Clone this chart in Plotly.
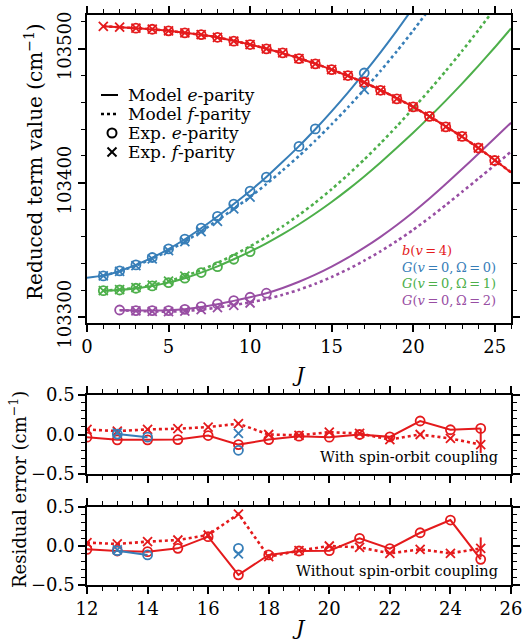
import plotly.graph_objects as go

# ---------------- data ----------------
# Top panel: reduced term values (cm^-1)
J_red_model = list(range(1, 27))
red_e_model = [103516.6, 103515.9, 103515.2, 103514.4, 103513.2, 103511.7, 103510.2, 103508.3, 103505.8,
               103503.0, 103499.9, 103496.6, 103492.8, 103488.7, 103484.3, 103479.6, 103474.7, 103469.1,
               103463.0, 103456.5, 103449.5, 103442.0, 103434.2, 103425.9, 103417.0, 103407.7]
red_f_model = [103516.6, 103515.9, 103515.2, 103514.4, 103513.2, 103511.7, 103510.2, 103508.3, 103505.8,
               103503.0, 103499.9, 103496.6, 103492.8, 103488.7, 103484.3, 103479.6, 103474.7, 103469.1,
               103463.0, 103456.5, 103449.5, 103442.0, 103434.2, 103425.9, 103417.0, 103407.7]
J_red_e = list(range(3, 26))
red_e_exp = [103515.2, 103514.4, 103513.2, 103511.7, 103510.4, 103508.4, 103505.5, 103503.0, 103499.8,
             103496.8, 103492.5, 103488.6, 103484.3, 103479.9, 103474.9, 103468.9, 103462.5, 103456.5,
             103449.5, 103441.6, 103434.6, 103425.9, 103416.6]
J_red_f = list(range(1, 26))
red_f_exp = [103516.6, 103515.9, 103515.2, 103514.4, 103513.2, 103511.7, 103510.4, 103508.4, 103505.5,
             103503.0, 103499.8, 103496.8, 103492.5, 103488.6, 103484.3, 103479.9, 103474.9, 103468.9,
             103462.5, 103456.5, 103449.5, 103441.6, 103434.6, 103425.9, 103416.6]

J_blue_e_model = list(range(0, 21))
blue_e_model = [103329.3, 103330.8, 103334.3, 103338.8, 103344.2, 103350.6, 103357.9, 103366.1, 103374.9,
                103384.2, 103393.9, 103404.3, 103415.6, 103427.3, 103439.9, 103453.2, 103467.2, 103481.8,
                103497.2, 103513.4, 103530.4]
J_blue_f_model = list(range(1, 22))
blue_f_model = [103330.7, 103334.1, 103338.3, 103343.4, 103349.4, 103356.2, 103363.8, 103372.0, 103380.6,
                103389.4, 103399.0, 103409.3, 103419.9, 103431.4, 103443.5, 103456.2, 103469.4, 103483.3,
                103498.0, 103513.4, 103529.5]
J_blue_e = [1, 2, 3, 4, 5, 6, 7, 8, 9, 10, 11, 13, 14, 17]
blue_e_exp = [103330.6, 103334.3, 103338.8, 103344.3, 103350.7, 103358.0, 103366.2, 103374.9, 103384.1,
              103393.8, 103404.2, 103427.1, 103440.1, 103481.8]
J_blue_f = [1, 2, 3, 4, 5, 6, 7, 8, 9, 10, 17]
blue_f_exp = [103330.6, 103334.0, 103338.3, 103343.3, 103349.4, 103356.1, 103363.6, 103371.2, 103380.5,
              103389.3, 103469.4]

J_green_e_model = list(range(1, 27))
green_e_model = [103319.6, 103320.1, 103321.4, 103323.1, 103325.6, 103328.9, 103333.0, 103337.7, 103343.0,
                 103348.7, 103354.9, 103361.7, 103369.1, 103377.1, 103385.7, 103394.9, 103404.7, 103415.1,
                 103426.0, 103437.3, 103449.0, 103461.2, 103473.9, 103487.1, 103500.8, 103515.0]
J_green_f_model = list(range(1, 26))
green_f_model = [103319.7, 103320.3, 103321.8, 103323.8, 103326.7, 103330.4, 103335.0, 103340.3, 103346.2,
                 103352.6, 103359.7, 103367.5, 103376.0, 103385.2, 103395.2, 103405.9, 103417.3, 103429.4,
                 103442.1, 103455.3, 103469.0, 103483.3, 103498.2, 103513.7, 103529.8]
J_green_e = list(range(1, 11))
green_e_exp = [103319.6, 103320.1, 103321.4, 103323.1, 103325.6, 103328.9, 103333.1, 103337.5, 103343.0,
               103348.7]
J_green_f = list(range(1, 7))
green_f_exp = [103319.7, 103320.3, 103321.8, 103323.8, 103326.7, 103330.4]

J_purple_model = list(range(2, 27))
purple_e_model = [103305.2, 103304.9, 103304.8, 103305.0, 103305.8, 103307.4, 103309.5, 103312.0, 103314.7,
                  103317.7, 103321.6, 103326.2, 103331.5, 103337.5, 103344.2, 103351.6, 103359.7, 103368.5,
                  103378.0, 103388.2, 103399.0, 103410.2, 103421.6, 103433.1, 103444.7]
purple_f_model = [103305.0, 103304.5, 103304.1, 103304.0, 103304.4, 103305.5, 103307.0, 103308.9, 103310.9,
                  103313.3, 103316.5, 103320.3, 103324.7, 103329.8, 103335.5, 103341.9, 103348.9, 103356.6,
                  103364.9, 103373.9, 103383.4, 103393.2, 103403.1, 103413.1, 103423.1]
J_purple_e = list(range(2, 12))
purple_e_exp = [103305.2, 103304.7, 103304.7, 103304.7, 103305.7, 103307.7, 103309.7, 103312.2, 103314.7,
                103317.7]
J_purple_f = list(range(3, 11))
purple_f_exp = [103304.5, 103304.1, 103304.0, 103304.4, 103305.5, 103307.0, 103308.6, 103310.4]

# Residual panels (cm^-1)
J_res = list(range(12, 26))
so_red_e = [-0.034, -0.068, -0.068, -0.064, -0.013, -0.128, -0.064, -0.021, -0.034, 0.0, -0.03, 0.171, 0.06, 0.077]
so_red_f = [0.064, 0.043, 0.064, 0.073, 0.094, 0.137, 0.0, -0.01, 0.03, 0.013, -0.064, 0.0, -0.05, -0.128]
so_red_f_errp = [0, 0, 0, 0, 0, 0, 0, 0, 0, 0, 0, 0, 0, 0.205]
so_red_f_errm = [0, 0, 0, 0, 0, 0, 0, 0, 0, 0, 0, 0, 0, 0.107]
nso_red_e = [-0.043, -0.064, -0.073, -0.03, 0.12, -0.37, -0.115, -0.064, -0.06, 0.098, -0.034, 0.17, 0.333, -0.171]
nso_red_f = [0.043, 0.026, 0.056, 0.077, 0.141, 0.41, -0.137, -0.06, 0.0, -0.017, -0.094, -0.043, -0.094, -0.03]
nso_red_f_errp = [0, 0, 0, 0, 0, 0, 0, 0, 0, 0, 0, 0, 0, 0.14]
nso_red_f_errm = [0, 0, 0, 0, 0, 0, 0, 0, 0, 0, 0, 0, 0, 0.115]
J_res_blue_e = [13, 14, 15, 16, 17]
so_blue_e = [0.005, -0.034, None, None, -0.2]
nso_blue_e = [-0.06, -0.115, None, None, -0.03]
J_res_blue_f = [13, 17]
so_blue_f = [0.02, 0.013]
nso_blue_f = [-0.05, -0.1]

legend_labels = ["Model <i>e</i>-parity", "Model <i>f</i>-parity", "Exp. <i>e</i>-parity", "Exp. <i>f</i>-parity"]
state_labels = ["<i>b</i>(<i>v</i>\u2009=\u20094)",
                "<i>G</i>(<i>v</i>\u2009=\u20090,\u2009\u03a9\u2009=\u20090)",
                "<i>G</i>(<i>v</i>\u2009=\u20090,\u2009\u03a9\u2009=\u20091)",
                "<i>G</i>(<i>v</i>\u2009=\u20090,\u2009\u03a9\u2009=\u20092)"]

RED, BLUE, GREEN, PURPLE = "#e41a1c", "#377eb8", "#4daf4a", "#984ea3"
FONT = "DejaVu Serif"
W, H = 522, 641

fig = go.Figure()


def model(x, y, color, dotted, xa="x", ya="y"):
    fig.add_trace(go.Scatter(x=x, y=y, mode="lines", xaxis=xa, yaxis=ya, showlegend=False,
                             line=dict(color=color, width=2.6 if dotted else 2,
                                       dash="dot" if dotted else "solid", shape="spline", smoothing=0.6),
                             hoverinfo="skip"))


def exp(x, y, color, sym, xa="x", ya="y", size=9, mode="markers", dotted=False, err=None):
    kw = {}
    if err is not None:
        kw["error_y"] = dict(type="data", symmetric=False, array=err[0], arrayminus=err[1],
                             color=color, thickness=2, width=0)
    fig.add_trace(go.Scatter(x=x, y=y, mode=mode, xaxis=xa, yaxis=ya, showlegend=False,
                             connectgaps=False,
                             line=dict(color=color, width=2.6 if dotted else 2, dash="dot" if dotted else "solid"),
                             marker=dict(symbol=sym, size=size, color=color,
                                         line=dict(color=color, width=1.8)), **kw))


# top panel
model(J_purple_model, purple_e_model, PURPLE, False)
model(J_purple_model, purple_f_model, PURPLE, True)
model(J_green_e_model, green_e_model, GREEN, False)
model(J_green_f_model, green_f_model, GREEN, True)
model(J_blue_e_model, blue_e_model, BLUE, False)
model(J_blue_f_model, blue_f_model, BLUE, True)
model(J_red_model, red_e_model, RED, False)
model(J_red_model, red_f_model, RED, True)
for (xj, yv, c) in [(J_purple_e, purple_e_exp, PURPLE), (J_green_e, green_e_exp, GREEN),
                    (J_blue_e, blue_e_exp, BLUE), (J_red_e, red_e_exp, RED)]:
    exp(xj, yv, c, "circle-open")
for (xj, yv, c) in [(J_purple_f, purple_f_exp, PURPLE), (J_green_f, green_f_exp, GREEN),
                    (J_blue_f, blue_f_exp, BLUE), (J_red_f, red_f_exp, RED)]:
    exp(xj, yv, c, "x-thin")

# residual panels
for ya, re, rf, be, bf, err in [("y2", so_red_e, so_red_f, so_blue_e, so_blue_f, (so_red_f_errp, so_red_f_errm)),
                                ("y3", nso_red_e, nso_red_f, nso_blue_e, nso_blue_f, (nso_red_f_errp, nso_red_f_errm))]:
    xa = "x2" if ya == "y2" else "x3"
    exp(J_res, rf, RED, "x-thin", xa, ya, mode="lines+markers", dotted=True, err=err)
    exp(J_res, re, RED, "circle-open", xa, ya, mode="lines+markers")
    exp(J_res_blue_e, be, BLUE, "circle-open", xa, ya, mode="lines+markers")
    exp(J_res_blue_f, bf, BLUE, "x-thin", xa, ya, mode="markers")

ax = dict(showline=True, linecolor="black", linewidth=1.5, mirror="allticks", ticks="outside",
          ticklen=7, tickwidth=1.5, tickcolor="black", showgrid=False, zeroline=False, automargin=False,
          ticklabeloverflow="allow", tickfont=dict(family=FONT, size=18, color="black"))


def minor(d):
    return dict(ticks="outside", ticklen=4, tickwidth=1.2, tickcolor="black", dtick=d)


xd = [87 / W, 511 / W]
fig.update_layout(
    width=W, height=H, margin=dict(l=0, r=0, t=0, b=0, autoexpand=False),
    plot_bgcolor="white", paper_bgcolor="white",
    font=dict(family=FONT, color="black"),
    showlegend=False,
    xaxis=dict(**ax, domain=xd, anchor="y", range=[0, 26], dtick=5, tick0=0, minor=minor(1)),
    yaxis=dict(**ax, domain=[1 - 323 / H, 1 - 15 / H], anchor="x", range=[103295.5, 103525],
               dtick=100, tick0=103300, tickformat="d", tickangle=-90, minor=minor(20)),
    xaxis2=dict(**ax, domain=xd, anchor="y2", range=[12, 26], dtick=2, tick0=12, showticklabels=False,
                matches="x3", minor=minor(0.5)),
    yaxis2=dict(**ax, domain=[1 - 474 / H, 1 - 395 / H], anchor="x2", range=[-0.5, 0.5],
                tickvals=[-0.5, 0, 0.5], tickformat=".1f", minor=minor(0.1)),
    xaxis3=dict(**ax, domain=xd, anchor="y3", range=[12, 26], dtick=2, tick0=12, minor=minor(0.5)),
    yaxis3=dict(**ax, domain=[1 - 585 / H, 1 - 507 / H], anchor="x3", range=[-0.5, 0.5],
                tickvals=[-0.5, 0, 0.5], tickformat=".1f", minor=minor(0.1)),
)

# manual legend (top-left of upper panel)
rows = [95, 114, 133, 152]
fig.add_shape(type="line", xref="paper", yref="paper", x0=101 / W, x1=118 / W, y0=1 - rows[0] / H,
              y1=1 - rows[0] / H, line=dict(color="black", width=2))
fig.add_shape(type="line", xref="paper", yref="paper", x0=101 / W, x1=118 / W, y0=1 - rows[1] / H,
              y1=1 - rows[1] / H, line=dict(color="black", width=2.4, dash="dot"))
fig.add_shape(type="circle", xref="paper", yref="paper", x0=107.5 / W, x1=116.5 / W, y0=1 - (rows[2] + 4.5) / H,
              y1=1 - (rows[2] - 4.5) / H, line=dict(color="black", width=2))
for a, b in [(-4.5, 4.5), (4.5, -4.5)]:
    fig.add_shape(type="line", xref="paper", yref="paper", x0=(112 - 4.5) / W, x1=(112 + 4.5) / W,
                  y0=1 - (rows[3] + a) / H, y1=1 - (rows[3] + b) / H, line=dict(color="black", width=2))
for t, yp in zip(legend_labels, rows):
    fig.add_annotation(text=t, x=126 / W, y=1 - yp / H, xref="paper", yref="paper", xanchor="left",
                       yanchor="middle", showarrow=False, font=dict(family=FONT, size=17, color="black"))

for t, c, yp in zip(state_labels, [RED, BLUE, GREEN, PURPLE], [250, 267, 284, 300]):
    fig.add_annotation(text=t, x=400 / W, y=1 - yp / H, xref="paper", yref="paper", xanchor="left",
                       yanchor="middle", showarrow=False, font=dict(family=FONT, size=13, color=c))

fig.add_annotation(text="With spin-orbit coupling", x=500 / W, y=1 - 457 / H, xref="paper", yref="paper",
                   xanchor="right", yanchor="middle", showarrow=False, font=dict(family=FONT, size=14.5))
fig.add_annotation(text="Without spin-orbit coupling", x=500 / W, y=1 - 571 / H, xref="paper", yref="paper",
                   xanchor="right", yanchor="middle", showarrow=False, font=dict(family=FONT, size=14.5))
fig.add_annotation(text="Reduced term value (cm<sup>\u22121</sup>)", textangle=-90, x=34 / W, y=1 - 162 / H,
                   xref="paper", yref="paper", xanchor="center", yanchor="middle", showarrow=False,
                   font=dict(family=FONT, size=20))
fig.add_annotation(text="Residual error (cm<sup>\u22121</sup>)", textangle=-90, x=18 / W, y=1 - 490 / H,
                   xref="paper", yref="paper", xanchor="center", yanchor="middle", showarrow=False,
                   font=dict(family=FONT, size=18))
fig.add_annotation(text="<i>J</i>", x=299 / W, y=1 - 375 / H, xref="paper", yref="paper", xanchor="center",
                   yanchor="middle", showarrow=False, font=dict(family=FONT, size=21))
fig.add_annotation(text="<i>J</i>", x=299 / W, y=1 - 628 / H, xref="paper", yref="paper", xanchor="center",
                   yanchor="middle", showarrow=False, font=dict(family=FONT, size=21))

fig.write_html("out.html")
